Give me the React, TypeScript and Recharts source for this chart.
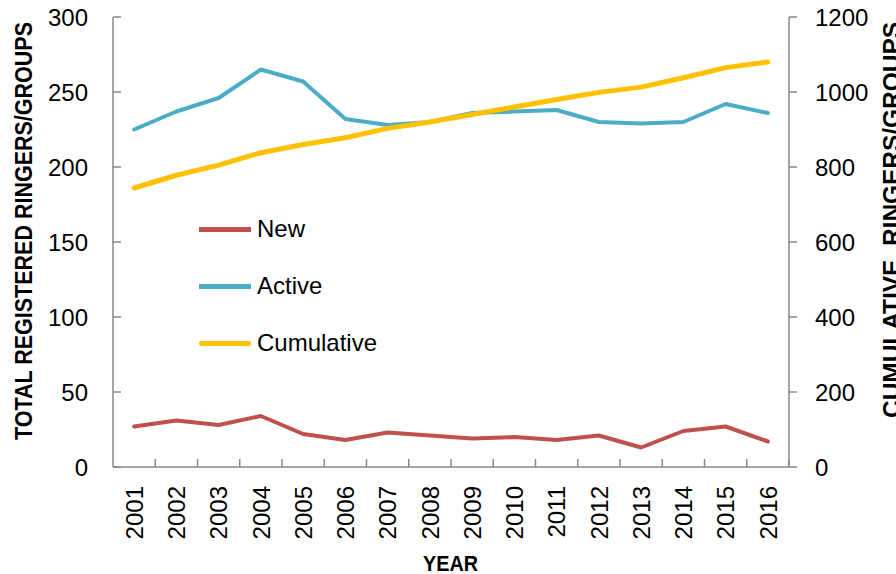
import React from "react";
import { LineChart, Line, XAxis, YAxis, Label } from "recharts";

const years = ["2001","2002","2003","2004","2005","2006","2007","2008","2009","2010","2011","2012","2013","2014","2015","2016"];
const newRingers = [27, 31, 28, 34, 22, 18, 23, 21, 19, 20, 18, 21, 13, 24, 27, 17];
const activeRingers = [225, 237, 246, 265, 257, 232, 228, 230, 236, 237, 238, 230, 229, 230, 242, 236];
const cumulativeRingers = [744, 778, 805, 838, 860, 878, 903, 920, 940, 960, 980, 999, 1013, 1038, 1065, 1080];

const leftTicks = [0, 50, 100, 150, 200, 250, 300];
const rightTicks = [0, 200, 400, 600, 800, 1000, 1200];

const seriesDefs = [
  { key: "New", name: "New", color: "#C0504D", width: 4, axis: "left" },
  { key: "Active", name: "Active", color: "#4BACC6", width: 4, axis: "left" },
  { key: "Cumulative", name: "Cumulative", color: "#FFC000", width: 5, axis: "right" },
];

const data = years.map((y, i) => ({
  year: y,
  New: newRingers[i],
  Active: activeRingers[i],
  Cumulative: cumulativeRingers[i],
}));

const FONT = "'Liberation Sans', Arial, sans-serif";
const AXIS_COLOR = "#898989";

const XTick = (props: any) => {
  const { x, y, payload } = props;
  const off = payload && typeof payload.offset === "number" ? payload.offset : 0;
  return (
    <g>
      <line x1={x + off} x2={x + off} y1={y} y2={y - 8} stroke={AXIS_COLOR} strokeWidth={1.5} />
      <text
        transform={`translate(${x},${y + 19}) rotate(-90)`}
        textAnchor="end"
        dy="0.36em"
        fontSize={24}
        fontFamily={FONT}
        fill="#000"
      >
        {payload.value}
      </text>
    </g>
  );
};

const LeftTitle = () => (
  <text
    transform="translate(32,231) rotate(-90)"
    textAnchor="middle"
    fontSize={24}
    fontWeight="bold"
    fontFamily={FONT}
    fill="#000"
    textLength={418}
    lengthAdjust="spacingAndGlyphs"
  >
    TOTAL REGISTERED RINGERS/GROUPS
  </text>
);

const RightTitle = () => (
  <text
    transform="translate(900,220) rotate(-90)"
    textAnchor="middle"
    fontSize={24}
    fontWeight="bold"
    fontFamily={FONT}
    fill="#000"
    textLength={396}
    lengthAdjust="spacingAndGlyphs"
    style={{ whiteSpace: "pre" }}
  >
    {"CUMULATIVE  RINGERS/GROUPS"}
  </text>
);

const BottomTitle = () => (
  <text
    x={450.5}
    y={571}
    textAnchor="middle"
    fontSize={22}
    fontWeight="bold"
    fontFamily={FONT}
    fill="#000"
    textLength={55}
    lengthAdjust="spacingAndGlyphs"
  >
    YEAR
  </text>
);

export default function App() {
  return (
    <div style={{ position: "absolute", left: 0, top: 0, width: 896, height: 574, background: "#fff" }}>
      <LineChart width={896} height={574} data={data} margin={{ top: 17, right: 0, bottom: 0, left: 0 }}>
        <XAxis
          dataKey="year"
          scale="band"
          interval={0}
          height={107}
          tickLine={false}
          tickSize={0}
          tickMargin={0}
          tick={<XTick />}
          axisLine={{ stroke: AXIS_COLOR, strokeWidth: 1.5 }}
        >
          <Label content={<BottomTitle />} />
        </XAxis>
        <YAxis
          yAxisId="left"
          width={113}
          domain={[0, 300]}
          ticks={leftTicks}
          interval={0}
          tickSize={-8}
          tickMargin={33}
          tick={{ fontSize: 24, fontFamily: FONT, fill: "#000" }}
          tickLine={{ stroke: AXIS_COLOR, strokeWidth: 1.5 }}
          axisLine={{ stroke: AXIS_COLOR, strokeWidth: 1.5 }}
        >
          <Label content={<LeftTitle />} />
        </YAxis>
        <YAxis
          yAxisId="right"
          orientation="right"
          width={107}
          domain={[0, 1200]}
          ticks={rightTicks}
          interval={0}
          tickSize={8}
          tickMargin={18}
          tick={{ fontSize: 24, fontFamily: FONT, fill: "#000" }}
          tickLine={{ stroke: AXIS_COLOR, strokeWidth: 1.5 }}
          axisLine={{ stroke: AXIS_COLOR, strokeWidth: 1.5 }}
        >
          <Label content={<RightTitle />} />
        </YAxis>
        {seriesDefs.map((s) => (
          <Line
            key={s.key}
            yAxisId={s.axis}
            dataKey={s.key}
            name={s.name}
            type="linear"
            stroke={s.color}
            strokeWidth={s.width}
            strokeLinecap="round"
            strokeLinejoin="round"
            dot={false}
            activeDot={false}
            isAnimationActive={false}
          />
        ))}
      </LineChart>
      <div style={{ position: "absolute", left: 199, top: 200.5, display: "flex", flexDirection: "column" }}>
        {seriesDefs.map((s) => (
          <div key={s.key} style={{ display: "flex", alignItems: "center", height: 57 }}>
            <div style={{ width: 52, height: 5, background: s.color, borderRadius: s.key === "Cumulative" ? 3 : 0, marginRight: 6 }} />
            <span style={{ fontSize: 24, fontFamily: FONT, color: "#000", lineHeight: "24px" }}>{s.name}</span>
          </div>
        ))}
      </div>
    </div>
  );
}
